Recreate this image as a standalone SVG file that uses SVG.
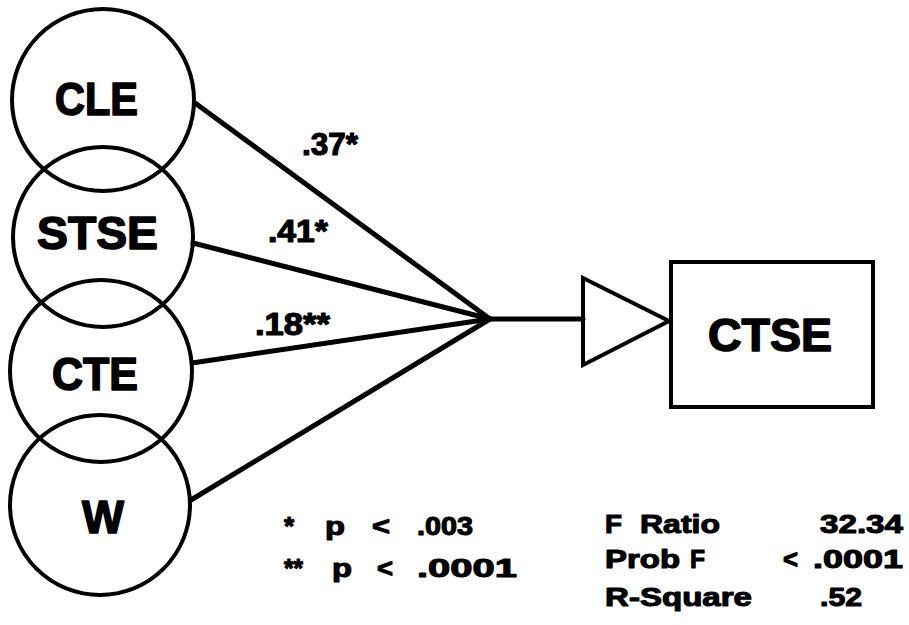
<svg xmlns="http://www.w3.org/2000/svg" width="909" height="625" viewBox="0 0 909 625">
  <style>
    .node { fill: none; stroke: #000; stroke-width: 4; }
    .edge { fill: none; stroke: #000; stroke-width: 5; stroke-linecap: round; }
    text { font-family: "Liberation Sans", Arial, Helvetica, sans-serif; font-weight: bold; fill: #000; stroke: #000; stroke-linejoin: round; }
    .big { font-size: 46px; stroke-width: 1.6; }
    .coef { font-size: 31px; stroke-width: 1.2; }
    .note { font-size: 26px; stroke-width: 1.1; }
  </style>
  <rect width="909" height="625" fill="#fff"/>

  <!-- predictor constructs -->
  <g id="node-CLE">
    <circle class="node" cx="103" cy="100" r="91"/>
    <text class="big" x="55" y="115" textLength="83" lengthAdjust="spacingAndGlyphs">CLE</text>
  </g>
  <g id="node-STSE">
    <circle class="node" cx="103" cy="237" r="90"/>
    <text class="big" x="37" y="249" textLength="121" lengthAdjust="spacingAndGlyphs">STSE</text>
  </g>
  <g id="node-CTE">
    <circle class="node" cx="101" cy="371" r="91"/>
    <text class="big" x="52" y="390" textLength="86" lengthAdjust="spacingAndGlyphs">CTE</text>
  </g>
  <g id="node-W">
    <circle class="node" cx="100" cy="505" r="90"/>
    <text class="big" x="82" y="533" textLength="42" lengthAdjust="spacingAndGlyphs">W</text>
  </g>

  <!-- paths into the criterion -->
  <g id="connectors">
    <line class="edge" x1="195" y1="103" x2="490" y2="319"/>
    <line class="edge" x1="193" y1="243" x2="490" y2="319"/>
    <line class="edge" x1="192" y1="363" x2="490" y2="319"/>
    <line class="edge" x1="191" y1="500" x2="490" y2="319"/>
    <line class="edge" x1="490" y1="319" x2="583" y2="319"/>
    <polygon class="node" stroke-width="5" stroke-linejoin="miter" points="583,278 669,321 583,365"/>
  </g>

  <!-- path coefficients -->
  <g id="coefficients">
    <text class="coef" x="302" y="155" textLength="56" lengthAdjust="spacingAndGlyphs">.37*</text>
    <text class="coef" x="268" y="242" textLength="60" lengthAdjust="spacingAndGlyphs">.41*</text>
    <text class="coef" x="255" y="335" textLength="75" lengthAdjust="spacingAndGlyphs">.18**</text>
  </g>

  <!-- criterion -->
  <g id="node-CTSE">
    <rect class="node" x="671" y="262" width="202" height="145"/>
    <text class="big" x="708" y="351" textLength="124" lengthAdjust="spacingAndGlyphs">CTSE</text>
  </g>

  <!-- significance key -->
  <g id="legend-p">
    <text class="note" x="284" y="535">*</text>
    <text class="note" x="325" y="535" textLength="20" lengthAdjust="spacingAndGlyphs">p</text>
    <text class="note" x="372" y="535" textLength="18" lengthAdjust="spacingAndGlyphs">&lt;</text>
    <text class="note" x="417" y="535" textLength="56" lengthAdjust="spacingAndGlyphs">.003</text>
    <text class="note" x="284" y="577" textLength="19" lengthAdjust="spacingAndGlyphs">**</text>
    <text class="note" x="332" y="577" textLength="20" lengthAdjust="spacingAndGlyphs">p</text>
    <text class="note" x="377" y="577" textLength="16" lengthAdjust="spacingAndGlyphs">&lt;</text>
    <text class="note" x="417" y="577" textLength="100" lengthAdjust="spacingAndGlyphs">.0001</text>
  </g>

  <!-- model statistics -->
  <g id="legend-stats">
    <text class="note" x="605" y="533" textLength="17" lengthAdjust="spacingAndGlyphs">F</text>
    <text class="note" x="640" y="533" textLength="80" lengthAdjust="spacingAndGlyphs">Ratio</text>
    <text class="note" x="820" y="533" textLength="83" lengthAdjust="spacingAndGlyphs">32.34</text>
    <text class="note" x="605" y="568" textLength="75" lengthAdjust="spacingAndGlyphs">Prob</text>
    <text class="note" x="690" y="568" textLength="15" lengthAdjust="spacingAndGlyphs">F</text>
    <text class="note" x="783" y="568" textLength="15" lengthAdjust="spacingAndGlyphs">&lt;</text>
    <text class="note" x="813" y="568" textLength="90" lengthAdjust="spacingAndGlyphs">.0001</text>
    <text class="note" x="605" y="606" textLength="147" lengthAdjust="spacingAndGlyphs">R-Square</text>
    <text class="note" x="820" y="606" textLength="42" lengthAdjust="spacingAndGlyphs">.52</text>
  </g>
</svg>
